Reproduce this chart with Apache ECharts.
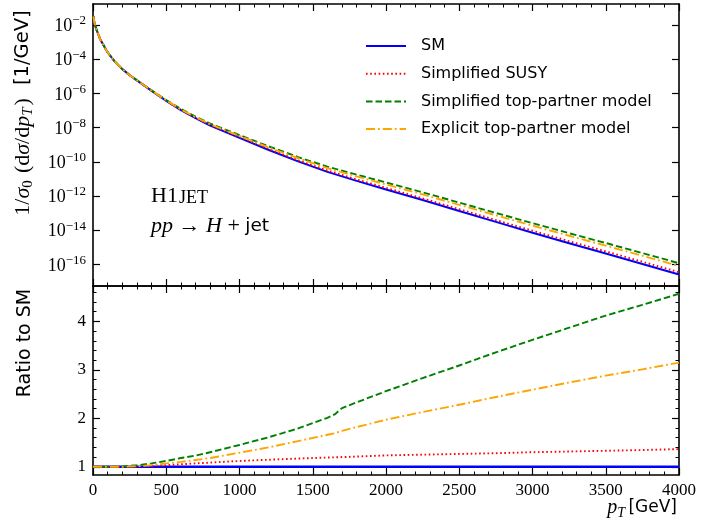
<!DOCTYPE html>
<html><head><meta charset="utf-8">
<script src="https://cdn.jsdelivr.net/npm/echarts@6/dist/echarts.min.js"></script>
<style>html,body{margin:0;padding:0;background:#fff}#c{width:721px;height:524px}</style>
</head><body><div id="c"></div>
<script>
// ---- data ----
const ptTop = [3,10,25,50,100,150,200,250,300,400,500,600,700,800,1000,1200,1400,1600,1800,2000,2250,2500,2750,3000,3250,3500,3750,4000];
const smXsec = [3.16e-2,1.26e-2,5.01e-3,1.41e-3,2.51e-4,7.08e-5,2.63e-5,1.17e-5,5.75e-6,1.41e-6,3.63e-7,1.05e-7,3.55e-8,1.32e-8,2.51e-9,4.90e-10,1.05e-10,2.57e-11,7.59e-12,2.40e-12,5.75e-13,1.32e-13,3.02e-14,7.08e-15,1.70e-15,4.27e-16,1.05e-16,2.51e-17];
const susyXsec = [3.16e-2,1.26e-2,5.01e-3,1.41e-3,2.51e-4,7.08e-5,2.63e-5,1.17e-5,5.78e-6,1.44e-6,3.76e-7,1.10e-7,3.79e-8,1.43e-8,2.81e-9,5.61e-10,1.22e-10,3.06e-11,9.18e-12,2.96e-12,7.19e-13,1.67e-13,3.86e-14,9.20e-15,2.23e-15,5.68e-16,1.41e-16,3.43e-17];
const topPartnerXsec = [3.16e-2,1.26e-2,5.01e-3,1.41e-3,2.51e-4,7.08e-5,2.63e-5,1.19e-5,5.93e-6,1.51e-6,4.06e-7,1.24e-7,4.37e-8,1.71e-8,3.64e-9,7.89e-10,1.87e-10,5.16e-11,1.77e-11,6.14e-12,1.63e-12,4.07e-13,1.01e-13,2.56e-14,6.58e-15,1.76e-15,4.55e-16,1.15e-16];
const explicitXsec = [3.16e-2,1.26e-2,5.01e-3,1.41e-3,2.51e-4,7.08e-5,2.63e-5,1.17e-5,5.81e-6,1.46e-6,3.88e-7,1.15e-7,4.05e-8,1.56e-8,3.24e-9,6.85e-10,1.60e-10,4.27e-11,1.38e-11,4.72e-12,1.22e-12,3.01e-13,7.36e-14,1.83e-14,4.66e-15,1.23e-15,3.15e-16,7.91e-17];

const ptRatio = [0,100,200,300,400,500,600,700,800,1000,1200,1400,1600,1650,1700,1800,2000,2250,2500,2750,3000,3250,3500,3750,4000];
const ratioSM = [1,1,1,1,1,1,1,1,1,1,1,1,1,1,1,1,1,1,1,1,1,1,1,1,1];
const ratioSUSY = [1,1,1,1.005,1.02,1.035,1.05,1.07,1.085,1.12,1.145,1.17,1.19,1.195,1.2,1.21,1.235,1.25,1.265,1.28,1.30,1.315,1.33,1.345,1.365];
const ratioTopPartner = [1,1,1.005,1.03,1.07,1.12,1.18,1.23,1.30,1.45,1.61,1.79,2.01,2.08,2.21,2.33,2.56,2.83,3.09,3.36,3.62,3.87,4.12,4.34,4.57];
const ratioExplicit = [1,1,1,1.01,1.03,1.07,1.10,1.14,1.18,1.29,1.40,1.53,1.66,1.69,1.74,1.82,1.97,2.13,2.28,2.44,2.59,2.74,2.88,3.01,3.15];

const seriesNames = ['SM','Simplified SUSY','Simplified top-partner model','Explicit top-partner model'];
const yTopTicks = [1e-16,1e-14,1e-12,1e-10,1e-8,1e-6,1e-4,1e-2];
const yRatioTicks = [1,2,3,4];
const yRatioMinorTicks = [1.2,1.4,1.6,1.8,2.2,2.4,2.6,2.8,3.2,3.4,3.6,3.8,4.2,4.4,4.6];
const yTopRange = [5.37e-18, 0.17];
const yRatioRange = [0.83, 4.73];
const xRange = [0, 4000];

// ---- styling ----
const serif = "'Liberation Serif','DejaVu Serif',serif";
const sans = "'DejaVu Sans',sans-serif";
const black = '#000';
const colors = ['#0000ff','#ff0000','#008000','#ffa500'];
const dashes = ['solid',[1.6,2.6],[6.5,3],[9,3,1.8,3]];

function xAx(grid, pos, labels){
  return {type:'value', gridIndex:grid, position:pos, min:xRange[0], max:xRange[1], interval:500,
    axisLine:{show:true, onZero:false, lineStyle:{color:black,width:1.6}},
    axisTick:{show:true, inside:true, length:7, lineStyle:{color:black,width:1.2}},
    minorTick:{show:true, splitNumber:5, length:3.5, lineStyle:{color:black,width:1}},
    splitLine:{show:false}, minorSplitLine:{show:false},
    axisLabel:{show:labels, margin:7, color:black, fontFamily:serif, fontSize:17,
      formatter:function(v){ return String(v); }}};
}
const supRich = {
  b:{fontFamily:serif, fontSize:18, color:black, lineHeight:21, verticalAlign:'bottom'},
  s:{fontFamily:serif, fontSize:13, color:black, lineHeight:21, verticalAlign:'top'}
};
function yTop(pos, labels){
  return {type:'log', logBase:10, gridIndex:0, position:pos, min:yTopRange[0], max:yTopRange[1],
    axisLine:{show:true, onZero:false, lineStyle:{color:black,width:1.6}},
    axisTick:{show:true, inside:true, length:7, customValues:yTopTicks, lineStyle:{color:black,width:1.2}},
    minorTick:{show:false}, splitLine:{show:false},
    axisLabel:{show:labels, customValues:yTopTicks, margin:7, color:black,
      formatter:function(v){ const e=Math.round(Math.log10(v)); return '{b|10}{s|\u2212'+Math.abs(e)+'}'; },
      rich:supRich}};
}
function yRat(pos, labels, ticks, len, line){
  return {type:'value', gridIndex:1, position:pos, min:yRatioRange[0], max:yRatioRange[1],
    axisLine:{show:line, onZero:false, lineStyle:{color:black,width:1.6}},
    axisTick:{show:true, inside:true, length:len, customValues:ticks, lineStyle:{color:black,width:len>5?1.2:1}},
    minorTick:{show:false}, splitLine:{show:false},
    axisLabel:{show:labels, customValues:ticks, margin:7, color:black, fontFamily:serif, fontSize:17}};
}

const topData = [smXsec, susyXsec, topPartnerXsec, explicitXsec];
const ratioData = [ratioSM, ratioSUSY, ratioTopPartner, ratioExplicit];
const series = [];
seriesNames.forEach((n,k)=>{
  series.push({type:'line', name:n, xAxisIndex:0, yAxisIndex:0, symbol:'none', silent:true,
    data: ptTop.map((x,i)=>[x, topData[k][i]]),
    lineStyle:{color:colors[k], width:k===0?2:1.9, type:dashes[k], cap:'butt', join:'round'}, itemStyle:{color:colors[k]}, z:2+k});
});
seriesNames.forEach((n,k)=>{
  series.push({type:'line', name:n, xAxisIndex:2, yAxisIndex:2, symbol:'none', silent:true,
    data: ptRatio.map((x,i)=>[x, ratioData[k][i]]),
    lineStyle:{color:colors[k], width:k===0?2.4:1.9, type:dashes[k], cap:'butt', join:'round'}, itemStyle:{color:colors[k]}, z:2+k});
});

const chart = echarts.init(document.getElementById('c'));
chart.setOption({
  animation:false,
  backgroundColor:'#fff',
  grid:[
    {left:93, right:42, top:4, height:282},
    {left:93, right:42, top:286, height:189}
  ],
  xAxis:[xAx(0,'bottom',false), xAx(0,'top',false), xAx(1,'bottom',true), xAx(1,'top',false)],
  yAxis:[yTop('left',true), yTop('right',false),
    yRat('left',true,yRatioTicks,7,true), yRat('right',false,yRatioTicks,7,true),
    yRat('left',false,yRatioMinorTicks,3.5,false), yRat('right',false,yRatioMinorTicks,3.5,false)],
  legend:{orient:'vertical', left:360, top:33, itemWidth:40, itemHeight:18, itemGap:11.7,
    selectedMode:false, data:seriesNames,
    itemStyle:{opacity:0, borderWidth:0},
    textStyle:{fontFamily:sans, fontSize:16, color:black, padding:[0,0,0,10]}},
  series:series,
  graphic:[
    {type:'text', x:23, y:113, rotation:Math.PI/2, silent:true,
     style:{text:'{r|1/}{i|\u03c3}{sub|0}{sp| }{r|(d}{i|\u03c3}{r|/d}{i|p}{subi|T}{r|)}{sp2| }{s|[1/GeV]}',
       align:'center', verticalAlign:'middle',
       rich:{r:{fontFamily:serif,fontSize:22,color:black,lineHeight:26,verticalAlign:'middle'},
             i:{fontFamily:serif,fontStyle:'italic',fontSize:22,color:black,lineHeight:26,verticalAlign:'middle'},
             sub:{fontFamily:serif,fontSize:15,color:black,lineHeight:26,verticalAlign:'bottom'},
             subi:{fontFamily:serif,fontStyle:'italic',fontSize:15,color:black,lineHeight:26,verticalAlign:'bottom',padding:[0,2,0,0]},
             sp:{fontSize:22,lineHeight:26,padding:[0,1,0,0]},
             sp2:{fontSize:22,lineHeight:26,padding:[0,7,0,0]},
             s:{fontFamily:sans,fontSize:19.5,color:black,lineHeight:26,verticalAlign:'middle'}}}},
    {type:'text', x:25, y:343, rotation:Math.PI/2, silent:true,
     style:{text:'Ratio to SM', align:'center', verticalAlign:'middle', fontFamily:sans, fontSize:19, fill:black}},
    {type:'text', x:677, y:508, silent:true,
     style:{text:'{i|p}{subi|T} {s|[GeV]}', align:'right', verticalAlign:'middle',
       rich:{i:{fontFamily:serif,fontStyle:'italic',fontSize:20,color:black,lineHeight:24,verticalAlign:'middle'},
             subi:{fontFamily:serif,fontStyle:'italic',fontSize:14,color:black,lineHeight:24,verticalAlign:'bottom'},
             s:{fontFamily:sans,fontSize:17,color:black,lineHeight:24,verticalAlign:'middle'}}}},
    {type:'text', x:151, y:195, silent:true,
     style:{text:'{b|H1}{c|JET}', align:'left', verticalAlign:'middle',
       rich:{b:{fontFamily:serif,fontSize:22,color:black,lineHeight:24,verticalAlign:'bottom',padding:[0,1,0,0]},
             c:{fontFamily:serif,fontSize:18,color:black,lineHeight:24,verticalAlign:'bottom'}}}},
    {type:'text', x:151, y:226, silent:true,
     style:{text:'{i|pp}{r| \u2192 }{i|H}{r| + }{s|jet}', align:'left', verticalAlign:'middle',
       rich:{i:{fontFamily:serif,fontStyle:'italic',fontSize:22,color:black,lineHeight:26,verticalAlign:'middle'},
             r:{fontFamily:serif,fontSize:22,color:black,lineHeight:26,verticalAlign:'middle'},
             s:{fontFamily:sans,fontSize:18.5,color:black,lineHeight:26,verticalAlign:'middle'}}}}
  ]
});
</script></body></html>
